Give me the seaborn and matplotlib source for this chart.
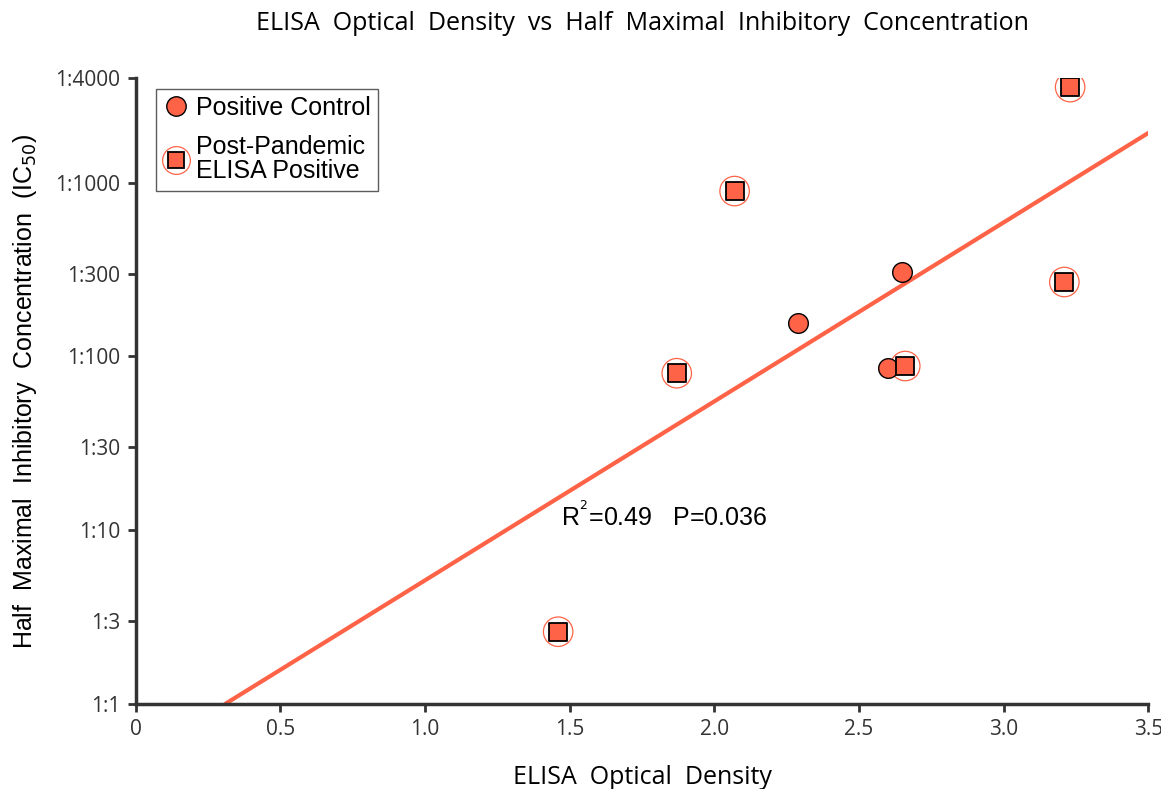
import numpy as np
import pandas as pd
import matplotlib
matplotlib.use('Agg')
import matplotlib.pyplot as plt
import seaborn as sns
from matplotlib.lines import Line2D
from matplotlib.legend_handler import HandlerTuple

# positive controls (circles)
control_od = [2.29, 2.65, 2.60]
control_ic50 = [156, 305, 86]
# post-pandemic ELISA positive samples (squares with halo)
post_od = [3.23, 2.07, 3.21, 1.87, 2.66, 1.46]
post_ic50 = [3550, 895, 268, 80, 88, 2.6]

# fitted line in log10 space
fit_slope = 1.03
fit_intercept = -0.319
fit_x = [0.31, 3.5]

yticks = [1, 3, 10, 30, 100, 300, 1000, 4000]
ytick_labels = ['1:1', '1:3', '1:10', '1:30', '1:100', '1:300', '1:1000', '1:4000']
xticks = [0, 0.5, 1.0, 1.5, 2.0, 2.5, 3.0, 3.5]
xtick_labels = ['0', '0.5', '1.0', '1.5', '2.0', '2.5', '3.0', '3.5']

color = '#ff6347'
axis_col = '#333333'

sns.set_style('white')
plt.rcParams['font.family'] = ['Liberation Sans', 'DejaVu Sans']
plt.rcParams['text.color'] = 'black'
plt.rcParams['axes.labelcolor'] = 'black'

df_ctrl = pd.DataFrame({'od': control_od, 'ic50': control_ic50})
df_post = pd.DataFrame({'od': post_od, 'ic50': post_ic50})

fig = plt.figure(figsize=(11.61, 7.89), dpi=100)
ax = fig.add_axes([0.117, 0.108, 0.872, 0.793])

fx = np.array(fit_x)
fy = 10 ** (fit_intercept + fit_slope * fx)
ax.plot(fx, fy, color=color, lw=3, zorder=2)

sns.scatterplot(data=df_post, x='od', y='ic50', ax=ax, marker='o', s=450,
                facecolor='none', edgecolor=color, linewidth=0.9, zorder=3)
sns.scatterplot(data=df_ctrl, x='od', y='ic50', ax=ax, marker='o', s=200,
                color=color, edgecolor='black', linewidth=1, zorder=4)
sns.scatterplot(data=df_post, x='od', y='ic50', ax=ax, marker='s', s=170,
                color=color, edgecolor='black', linewidth=1.3, zorder=5)

ax.set_yscale('log')
ax.set_xlim(0, 3.5)
ax.set_ylim(1, 4000)
ax.set_yticks(yticks)
ax.set_yticklabels(ytick_labels)
ax.minorticks_off()
ax.set_xticks(xticks)
ax.set_xticklabels(xtick_labels)
for lab in ax.get_xticklabels() + ax.get_yticklabels():
    lab.set_family(['Open Sans', 'DejaVu Sans'])
    lab.set_fontsize(15)
    lab.set_color('#333333')
ax.tick_params(axis='both', direction='out', length=6, width=2, color=axis_col, pad=5,
               bottom=True, left=True)
sns.despine(ax=ax)
for side in ['left', 'bottom']:
    ax.spines[side].set_linewidth(2.5)
    ax.spines[side].set_color(axis_col)

ax.set_xlabel('ELISA  Optical  Density', fontsize=18, labelpad=18,
              family=['Open Sans', 'DejaVu Sans'])
ax.set_ylabel('Half  Maximal  Inhibitory  Concentration  (IC$_{50}$)', fontsize=18, labelpad=12)
fig.text(0.553, 0.97, 'ELISA  Optical  Density  vs  Half  Maximal  Inhibitory  Concentration',
         ha='center', va='center', fontsize=18, family=['Open Sans', 'DejaVu Sans'])

ax.text(1.47, 12.0, 'R$^{^2}$=0.49   P=0.036', fontsize=18, ha='left', va='center')

h_ctrl = Line2D([], [], marker='o', ls='none', markersize=14, markerfacecolor=color,
                markeredgecolor='black')
h_halo = Line2D([], [], marker='o', ls='none', markersize=20, markerfacecolor='none',
                markeredgecolor=color, markeredgewidth=0.9)
h_sq = Line2D([], [], marker='s', ls='none', markersize=12, markerfacecolor=color,
              markeredgecolor='black', markeredgewidth=1.3)
leg = ax.legend([h_ctrl, (h_halo, h_sq)], ['Positive Control', 'Post-Pandemic\nELISA Positive'],
                handler_map={tuple: HandlerTuple(ndivide=1, pad=0)},
                loc='upper left', bbox_to_anchor=(0.02, 0.983), fontsize=18,
                frameon=True, fancybox=False, edgecolor='#333333', handlelength=1.0,
                handletextpad=0.3, borderpad=0.3, labelspacing=0.6, borderaxespad=0)
leg.get_frame().set_linewidth(1)
for t in leg.get_texts():
    t.set_linespacing(1.0)

fig.savefig('out.png', dpi=100)
